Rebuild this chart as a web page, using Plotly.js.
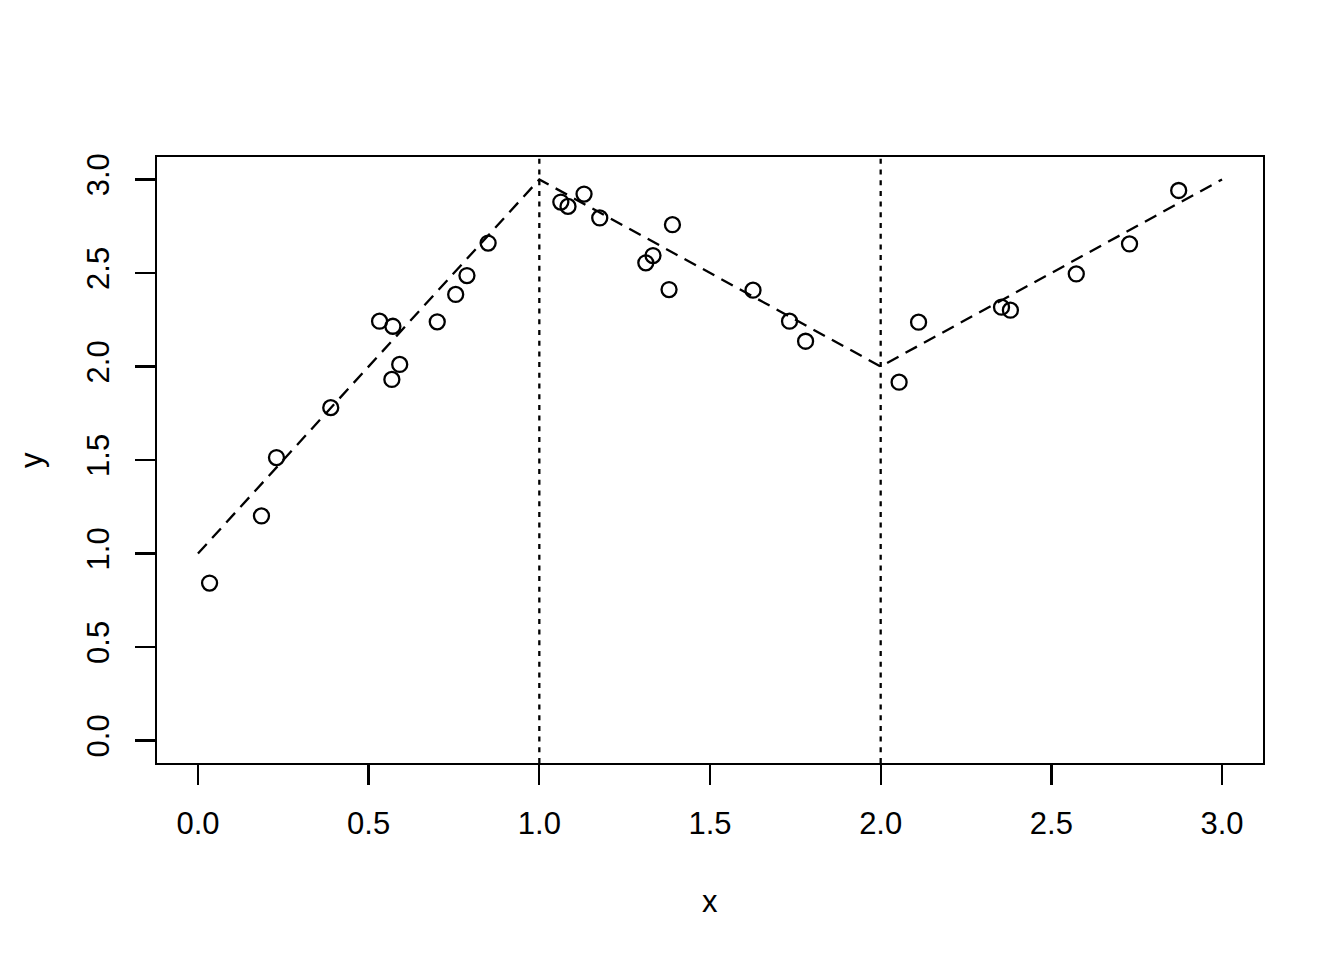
<!DOCTYPE html>
<html>
<head>
<meta charset="utf-8">
<script src="https://cdn.plot.ly/plotly-3.0.1.min.js"></script>
<style>
  html, body { margin: 0; padding: 0; background: #ffffff; }
  #chart { width: 1344px; height: 960px; }
</style>
</head>
<body>
<div id="chart"></div>
<script>
// Observed data points
const xObs = [0.034, 0.186, 0.230, 0.389, 0.532, 0.571, 0.591, 0.568, 0.701, 0.755,
              0.788, 0.850, 1.063, 1.084, 1.131, 1.177, 1.390, 1.333, 1.312, 1.380,
              1.626, 1.733, 1.780, 2.054, 2.111, 2.354, 2.380, 2.573, 2.729, 2.873];
const yObs = [0.842, 1.201, 1.513, 1.780, 2.242, 2.215, 2.011, 1.931, 2.239, 2.385,
              2.486, 2.660, 2.879, 2.856, 2.922, 2.794, 2.758, 2.593, 2.554, 2.411,
              2.408, 2.242, 2.135, 1.916, 2.237, 2.317, 2.301, 2.495, 2.655, 2.941];

// Piecewise linear (true) function
const xLine = [0, 1, 2, 3];
const yLine = [1, 3, 2, 3];

// Breakpoints (vertical dotted lines)
const breakpoints = [1, 2];

// Ticks
const xTicks = [0, 0.5, 1, 1.5, 2, 2.5, 3];
const xTickLabels = ["0.0", "0.5", "1.0", "1.5", "2.0", "2.5", "3.0"];
const yTicks = [0, 0.5, 1, 1.5, 2, 2.5, 3];
const yTickLabels = ["0.0", "0.5", "1.0", "1.5", "2.0", "2.5", "3.0"];

const FONT = "Liberation Sans, Arial, Helvetica, sans-serif";
const FS = 31;
const LW = 2.3;

const traces = [
  {
    x: xLine, y: yLine, type: "scatter", mode: "lines",
    line: { color: "#000000", width: LW, dash: "13px,8px" },
    hoverinfo: "skip", showlegend: false
  },
  {
    x: xObs, y: yObs, type: "scatter", mode: "markers",
    marker: { symbol: "circle-open", size: 15, color: "#000000", line: { color: "#000000", width: LW } },
    showlegend: false
  }
];

const shapes = breakpoints.map(b => ({
  type: "line", xref: "x", yref: "paper", x0: b, x1: b, y0: 0, y1: 1,
  line: { color: "#000000", width: LW, dash: "5px,5.7px" }
}));

const axisCommon = {
  range: [-0.12, 3.12],
  tickmode: "array",
  showgrid: false, zeroline: false,
  showline: true, mirror: true, linecolor: "#000000", linewidth: LW,
  ticks: "outside", ticklen: 20, tickwidth: LW, tickcolor: "#000000",
  tickfont: { family: FONT, size: FS, color: "#000000" },
  automargin: false, fixedrange: true
};

const layout = {
  width: 1344, height: 960,
  margin: { l: 157, r: 81, t: 157, b: 197, pad: 0 },
  paper_bgcolor: "#ffffff", plot_bgcolor: "#ffffff",
  showlegend: false,
  xaxis: Object.assign({}, axisCommon, {
    tickvals: xTicks, ticktext: xTickLabels, ticklabelstandoff: 11
  }),
  yaxis: Object.assign({}, axisCommon, {
    tickvals: yTicks, ticktext: yTickLabels, tickangle: -90, ticklabelstandoff: 13
  }),
  shapes: shapes,
  annotations: [
    { text: "x", xref: "paper", yref: "paper", x: 0.5, y: 0, yshift: -138,
      xanchor: "center", yanchor: "middle", showarrow: false,
      font: { family: FONT, size: FS, color: "#000000" } },
    { text: "y", xref: "paper", yref: "paper", x: 0, y: 0.5, xshift: -126,
      xanchor: "center", yanchor: "middle", showarrow: false, textangle: -90,
      font: { family: FONT, size: FS, color: "#000000" } }
  ]
};

Plotly.newPlot("chart", traces, layout, { displayModeBar: false, staticPlot: true });
</script>
</body>
</html>
